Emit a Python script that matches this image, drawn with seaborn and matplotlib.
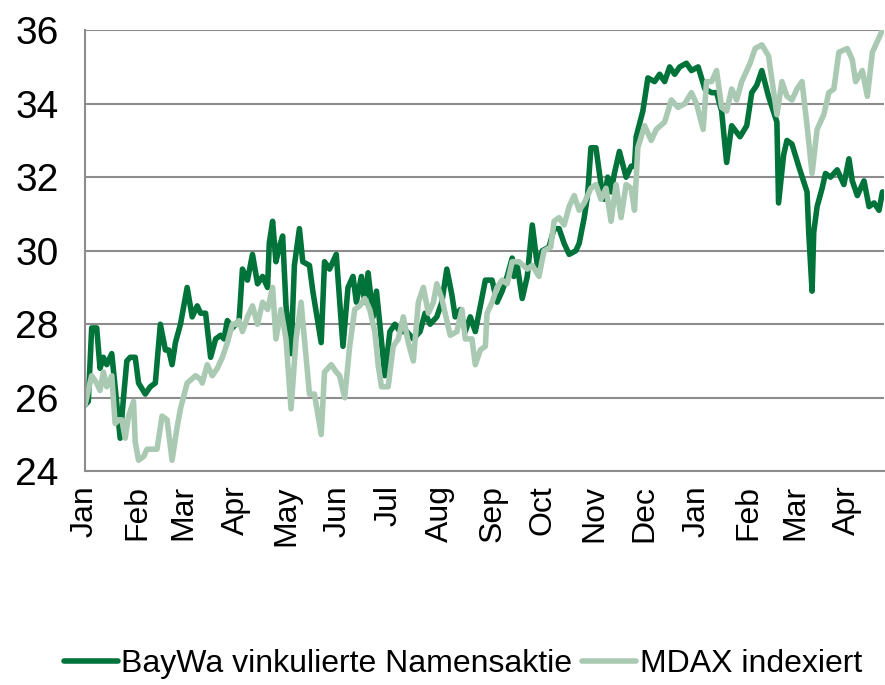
import pandas as pd
import seaborn as sns
import matplotlib
matplotlib.use("Agg")
import matplotlib.pyplot as plt
import matplotlib.dates as mdates

# days since 1 Jan of the first year, and closing values
baywa_days = [0, 2, 4, 7, 9, 11, 13, 16, 18, 21, 23, 25, 27, 30, 32, 36, 39, 42, 45, 48,
              50, 52, 54, 57, 61, 64, 67, 69, 72, 75, 78, 81, 83, 85, 88, 90, 92, 94, 97, 100,
              103, 106, 109, 110, 112, 114, 116, 118, 120, 123, 125, 128, 130, 134, 136, 141, 143, 146, 150, 154,
              157, 160, 162, 165, 167, 169, 172, 174, 176, 179, 182, 185, 188, 192, 196, 200, 203, 206, 210, 213,
              216, 219, 221, 224, 227, 230, 233, 236, 239, 243, 246, 249, 252, 255, 256, 258, 261, 264, 267, 270,
              273, 277, 280, 283, 286, 289, 293, 295, 298, 300, 302, 305, 308, 310, 312, 314, 316, 319, 323, 326,
              328, 329, 333, 336, 340, 343, 346, 349, 352, 355, 359, 362, 366, 370, 374, 377, 380, 383, 386, 391,
              395, 398, 401, 404, 408, 413, 414, 417, 419, 422, 426, 431, 432, 434, 435, 437, 440, 442, 445, 449,
              453, 456, 458, 461, 465, 468, 471, 474, 476]
baywa = [25.8, 25.9, 27.9, 27.9, 26.8, 27.1, 26.9, 27.2, 26.3, 24.9, 26.0, 27.0, 27.1, 27.1, 26.4, 26.1, 26.3, 26.4, 28.0, 27.3,
         27.3, 26.9, 27.5, 28.0, 29.0, 28.2, 28.5, 28.3, 28.3, 27.1, 27.6, 27.7, 27.6, 28.1, 27.9, 28.0, 28.1, 29.5, 29.2, 29.9,
         29.1, 29.3, 29.0, 30.2, 30.8, 29.7, 30.1, 30.4, 28.5, 27.2, 29.6, 30.6, 29.7, 29.6, 28.9, 27.5, 29.7, 29.5, 29.9, 27.4,
         29.0, 29.3, 28.6, 29.3, 28.6, 29.4, 28.2, 28.9, 28.0, 26.6, 27.8, 28.0, 27.8, 27.8, 27.6, 27.8, 28.3, 28.0, 28.2, 28.6,
         29.5, 28.8, 28.2, 28.4, 27.8, 28.2, 27.8, 28.5, 29.2, 29.2, 28.6, 28.9, 29.3, 29.8, 29.3, 29.6, 28.7, 29.3, 30.7, 29.6,
         30.0, 30.1, 30.6, 30.6, 30.2, 29.9, 30.0, 30.2, 30.9, 31.5, 32.8, 32.8, 31.8, 31.4, 32.0, 31.6, 32.1, 32.7, 32.0, 32.3,
         32.3, 33.1, 33.8, 34.7, 34.6, 34.8, 34.6, 35.0, 34.8, 35.0, 35.1, 34.9, 35.0, 34.4, 34.3, 34.3, 33.8, 32.4, 33.4, 33.1,
         33.4, 34.3, 34.5, 34.9, 34.2, 33.5, 31.3, 32.6, 33.0, 32.9, 32.3, 31.6, 30.5, 28.9, 30.5, 31.2, 31.7, 32.1, 32.0, 32.2,
         31.8, 32.5, 31.9, 31.5, 31.9, 31.2, 31.3, 31.1, 31.6]

mdax_days = [0, 2, 4, 7, 9, 11, 13, 16, 18, 20, 22, 24, 26, 29, 30, 32, 35, 37, 40, 43,
             46, 49, 52, 55, 57, 61, 66, 69, 70, 73, 76, 79, 82, 85, 88, 90, 92, 94, 97, 100,
             103, 106, 109, 112, 114, 117, 120, 123, 126, 129, 131, 134, 137, 141, 143, 147, 150, 152, 155, 158,
             161, 164, 167, 170, 173, 175, 177, 181, 184, 187, 190, 193, 196, 199, 202, 205, 208, 210, 213, 218,
             222, 225, 227, 231, 233, 236, 239, 240, 243, 246, 249, 252, 255, 259, 264, 267, 271, 274, 278, 280,
             283, 286, 289, 292, 295, 298, 302, 305, 308, 311, 314, 317, 320, 323, 326, 328, 330, 334, 338, 341,
             346, 350, 354, 358, 362, 365, 369, 371, 374, 377, 380, 383, 386, 389, 392, 397, 400, 404, 408, 413,
             416, 419, 422, 425, 428, 431, 434, 437, 441, 444, 447, 450, 455, 458, 460, 464, 467, 470, 473, 476]
mdax = [25.8, 26.2, 26.6, 26.4, 26.2, 26.7, 26.3, 26.6, 25.3, 25.4, 25.4, 24.9, 25.5, 25.9, 24.8, 24.3, 24.4, 24.6, 24.6, 24.6,
        25.5, 25.4, 24.3, 25.2, 25.7, 26.4, 26.6, 26.5, 26.4, 26.9, 26.6, 26.8, 27.1, 27.5, 28.0, 28.0, 28.1, 27.8, 28.2, 28.5,
        28.0, 28.6, 28.4, 29.0, 27.6, 28.4, 27.6, 25.7, 27.6, 28.6, 27.6, 26.1, 26.1, 25.0, 26.7, 26.9, 26.7, 26.6, 26.0, 27.4,
        28.4, 28.5, 28.7, 28.4, 27.8, 26.9, 26.3, 26.3, 27.4, 27.6, 28.2, 27.5, 27.0, 28.6, 29.0, 28.3, 28.6, 29.1, 28.7, 27.7,
        27.8, 28.4, 27.6, 27.6, 26.9, 27.3, 27.4, 28.3, 28.6, 29.0, 29.2, 29.1, 29.7, 29.7, 29.5, 29.6, 29.3, 30.0, 30.1, 30.8,
        30.9, 30.7, 31.2, 31.5, 31.1, 31.3, 31.7, 31.8, 31.4, 31.7, 30.8, 31.8, 30.9, 31.8, 31.7, 31.1, 32.8, 33.4, 33.0, 33.3,
        33.5, 34.1, 33.9, 34.0, 34.3, 34.0, 33.3, 34.6, 34.6, 34.9, 33.9, 33.8, 34.4, 34.1, 34.6, 35.1, 35.5, 35.6, 35.3, 33.7,
        34.6, 34.2, 34.1, 34.4, 34.6, 33.4, 32.1, 33.3, 33.7, 34.3, 34.4, 35.4, 35.5, 35.2, 34.6, 34.9, 34.2, 35.4, 35.7, 36.0]

series_names = ["BayWa vinkulierte Namensaktie", "MDAX indexiert"]
colors = ["#00733A", "#A9C9B3"]

start = pd.Timestamp("2013-01-01")
df = pd.concat([
    pd.DataFrame({"date": start + pd.to_timedelta(baywa_days, unit="D"), "value": baywa, "series": series_names[0]}),
    pd.DataFrame({"date": start + pd.to_timedelta(mdax_days, unit="D"), "value": mdax, "series": series_names[1]}),
])

sns.set_style("white")
plt.rcParams["font.family"] = ["Liberation Sans", "DejaVu Sans"]
plt.rcParams["text.color"] = "black"
plt.rcParams["xtick.color"] = "black"
plt.rcParams["ytick.color"] = "black"

fig, ax = plt.subplots(figsize=(8.85, 6.85), dpi=100)
fig.subplots_adjust(left=0.096, right=0.999, top=0.956, bottom=0.312)

sns.lineplot(data=df, x="date", y="value", hue="series", hue_order=series_names,
             palette=colors, linewidth=4.0, estimator=None, sort=True, ax=ax, legend=False)

ax.set_ylim(24, 36)
ax.set_yticks(range(24, 37, 2))
ax.set_xlim(start, start + pd.Timedelta(days=477))
ax.xaxis.set_major_locator(mdates.MonthLocator())
ax.xaxis.set_major_formatter(mdates.DateFormatter("%b"))
ax.set_xlabel("")
ax.set_ylabel("")

ax.grid(axis="y", color="#8C8C8C", linewidth=1.5)
ax.set_axisbelow(True)
for side in ["top", "right"]:
    ax.spines[side].set_visible(False)
for side in ["left", "bottom"]:
    ax.spines[side].set_color("#8C8C8C")
    ax.spines[side].set_linewidth(1.5)

ax.tick_params(axis="x", labelsize=23, rotation=90, length=6, width=1.2, color="#8C8C8C",
               labelcolor="black", pad=4)
ax.tick_params(axis="y", labelsize=28, length=5, width=1.2, color="#8C8C8C",
               labelcolor="black", pad=14)

handles = [plt.Line2D([], [], color=c, linewidth=4) for c in colors]
fig.legend(handles, series_names, loc="center", bbox_to_anchor=(0.523, 0.03), ncol=2,
           frameon=False, fontsize=23, handlelength=1.7, handletextpad=0.1, columnspacing=0.3)

fig.savefig("out.png", dpi=100)
